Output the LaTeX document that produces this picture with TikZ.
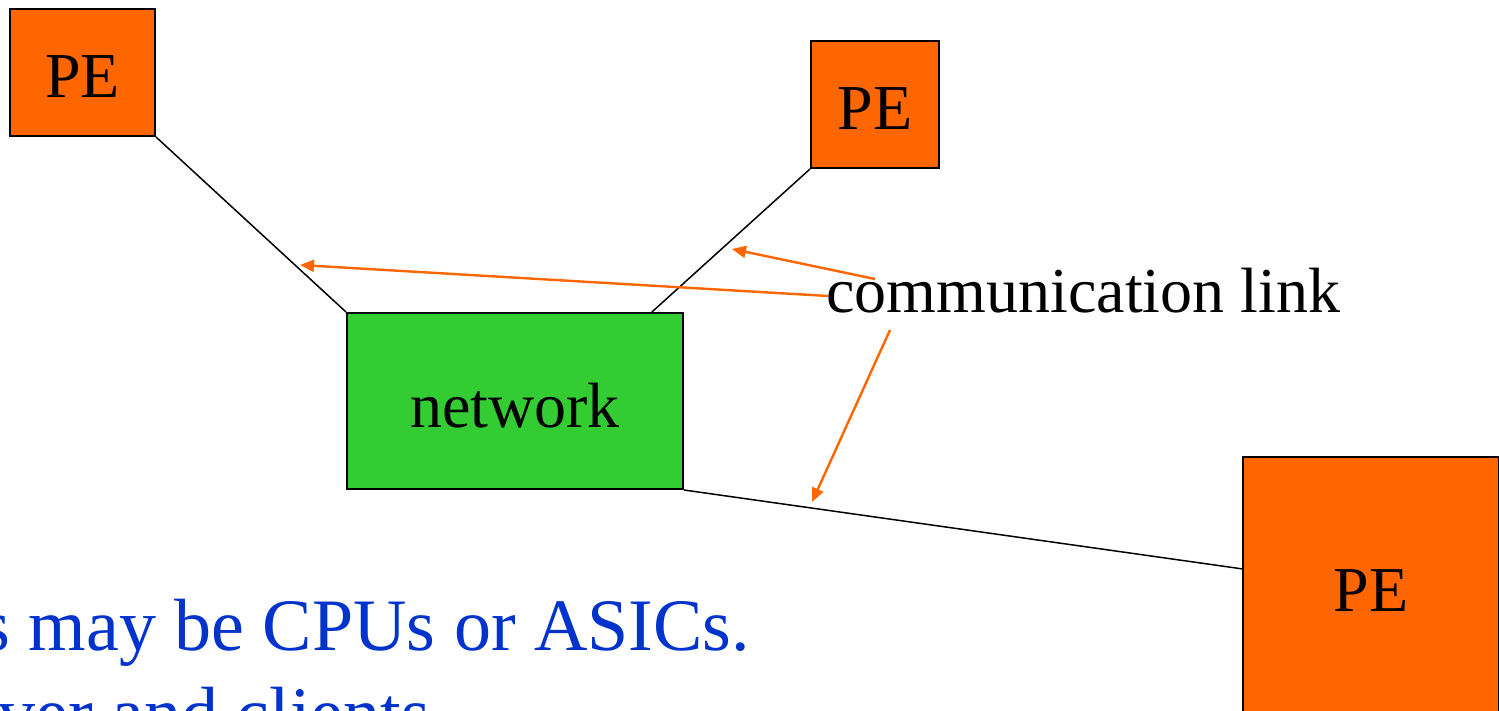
\documentclass[tikz,border=0pt]{standalone}
\usepackage{fontspec}
\setmainfont{Liberation Serif}
\usetikzlibrary{arrows.meta,calc}
\definecolor{peorange}{HTML}{FF6600}
\definecolor{netgreen}{HTML}{33CC33}
\definecolor{noteblue}{HTML}{0033CC}
\begin{document}
\begin{tikzpicture}[x=0.5pt,y=-0.5pt,
  box/.style={draw=black, line width=1pt, inner sep=0pt,
    font=\fontsize{32}{38}\selectfont},
  pebox/.style={box, fill=peorange},
  netbox/.style={box, fill=netgreen},
  lowtext/.style={text height=25pt, text depth=0pt},
  link/.style={draw=black, line width=0.75pt},
  pointer/.style={draw=peorange, line width=1.2pt,
    -{Triangle[length=7pt,width=6pt]}},
  label/.style={inner sep=0pt, anchor=base west,
    font=\fontsize{32}{38}\selectfont},
  note/.style={inner sep=0pt, anchor=base west, text=noteblue,
    font=\fontsize{37}{44}\selectfont}]
\useasboundingbox (0,0) rectangle (1499,711);
\clip (0,0) rectangle (1499,711);

% processing elements and the network
\node[pebox, lowtext, minimum width=72.5pt, minimum height=63.5pt] (pe1) at (82.5,72.5) {PE};
\node[pebox, lowtext, minimum width=64pt, minimum height=63.5pt] (pe2) at (875,104.5) {PE};
\node[netbox, lowtext, text height=26pt, minimum width=168pt, minimum height=88pt] (net) at (515,401) {network};
\node[pebox, minimum width=128pt, minimum height=134pt] (pe3) at (1371,591) {PE};

% links between the PEs and the network
\coordinate (nettop) at ($(net.north west)!0.905!(net.north east)$);
\coordinate (pe3side) at ($(pe3.north west)!0.418!(pe3.south west)$);
\draw[link] (pe1.south east) -- (net.north west);
\draw[link] (pe2.south west) -- (nettop);
\draw[link] (net.south east) -- (pe3side);

% label pointing at the links
\node[label] (cl) at (826,313) {communication link};
\coordinate (t1) at (828,296);
\coordinate (t2) at (875,279);
\coordinate (t3) at (890,330);
\coordinate (h1) at (300,265);
\coordinate (h2) at (732,249);
\coordinate (h3) at (812,502);
\draw[pointer] (t1) -- (h1);
\draw[pointer] (t2) -- (h2);
\draw[pointer] (t3) -- (h3);

% notes
\node[note] (n1) at (-19,650) {s may be CPUs or ASICs.};
\node[note] (n2) at (-2,738) {ver and clients};
\end{tikzpicture}
\end{document}
